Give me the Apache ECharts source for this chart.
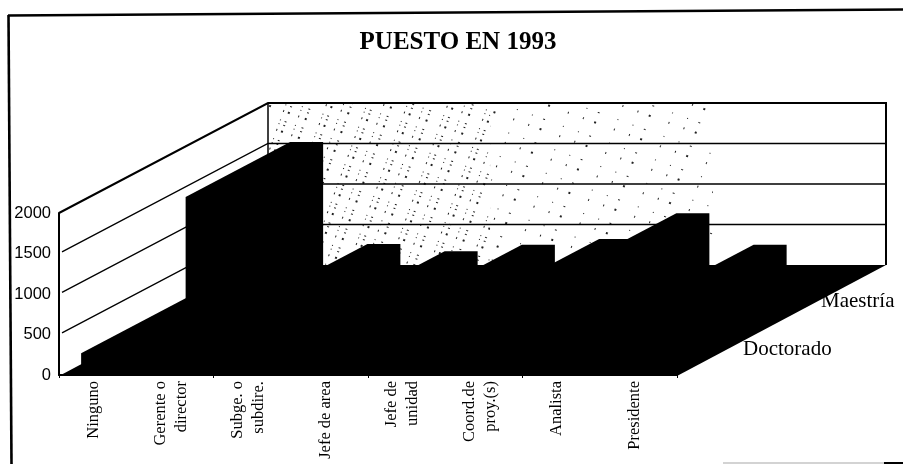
<!DOCTYPE html>
<html>
<head>
<meta charset="utf-8">
<style>html,body{margin:0;padding:0;background:#fff}#c{width:903px;height:464px}</style>
<script src="https://cdn.jsdelivr.net/npm/echarts@6/dist/echarts.min.js"></script>
</head>
<body>
<div id="c"></div>
<script>
const titleText = 'PUESTO EN 1993';
const categories = ['Ninguno', 'Gerente o\ndirector', 'Subge. o\nsubdire.', 'Jefe de area', 'Jefe de\nunidad', 'Coord.de\nproy.(s)', 'Analista', 'Presidente'];
const seriesNames = ['Doctorado', 'Maestría'];
const doctorado = [270, 180, 120, 140, 160, 100, 90, 40];
const maestria = [1520, 260, 170, 250, 320, 640, 250, 0];
const gridTicks = [500, 1000, 1500];
const yMax = 2000;

// oblique depth of one series row, in pixels
const DEPTH_X = 104.5, DEPTH_Y = 55, BAR_RATIO = 33 / 77.25;
const LINE = '#000';

function band(api) { return api.size([1, 0])[0]; }
function corners(api, v) {
  const b = band(api);
  const l = api.coord([0, v]);
  const r = api.coord([categories.length - 1, v]);
  return { x0: l[0] - b / 2, x1: r[0] + b / 2, y: l[1] };
}
// scanned stipple on the back wall: heavier towards the left, fading out to the right
function stipplePatch(xa, xb, ya, yb, decal) {
  return { type: 'polygon', silent: true, shape: { points: [[xa, ya], [xb, ya], [xb, yb], [xa, yb]] }, style: { fill: '#fff', decal: decal } };
}
function renderBackWall(params, api) {
  const c = corners(api, 0), t = corners(api, yMax);
  const bx0 = c.x0 + 2 * DEPTH_X, w = c.x1 - c.x0, ya = t.y - 2 * DEPTH_Y, yb = c.y - 2 * DEPTH_Y;
  const dense = { symbol: 'rect', symbolSize: 1, color: '#222', backgroundColor: '#fff', dashArrayX: [[1, 4, 2, 9, 1, 6, 2, 13]], dashArrayY: [1, 5, 2, 8, 1, 3], rotation: 0.35 };
  const sparse = { symbol: 'rect', symbolSize: 1, color: '#222', backgroundColor: '#fff', dashArrayX: [[1, 11, 2, 19, 1, 15]], dashArrayY: [1, 9, 2, 13], rotation: 0.35 };
  return {
    type: 'group', children: [
      stipplePatch(bx0, bx0 + w * 0.36, ya, yb, dense),
      stipplePatch(bx0 + w * 0.36, bx0 + w * 0.72, ya, yb, sparse)
    ]
  };
}
function renderGridLine(params, api) {
  const c = corners(api, api.value(1));
  return {
    type: 'polyline', silent: true,
    shape: { points: [[c.x0 + 3, c.y - 1.6], [c.x0 + 2 * DEPTH_X, c.y - 2 * DEPTH_Y], [c.x1 + 2 * DEPTH_X, c.y - 2 * DEPTH_Y]] },
    style: { stroke: LINE, lineWidth: 1.3, fill: null }
  };
}
function renderFrame(params, api) {
  const c = corners(api, 0), t = corners(api, yMax);
  const bx0 = c.x0 + 2 * DEPTH_X, bx1 = c.x1 + 2 * DEPTH_X, by = c.y - 2 * DEPTH_Y, ty = t.y - 2 * DEPTH_Y;
  return {
    type: 'group', children: [
      { type: 'polyline', silent: true, shape: { points: [[c.x0, t.y], [bx0, ty], [bx1, ty], [bx1, by]] }, style: { stroke: LINE, lineWidth: 2, fill: null } },
      { type: 'line', silent: true, shape: { x1: bx0, y1: ty, x2: bx0, y2: by }, style: { stroke: LINE, lineWidth: 1.5 } },
      { type: 'polygon', silent: true, shape: { points: [[c.x0, c.y + 1], [c.x1, c.y + 1], [bx1, by], [bx0, by]] }, style: { fill: '#000' } }
    ]
  };
}
function barRenderer(row) {
  return function (params, api) {
    const foot = api.coord([api.value(0), 0]);
    const top = api.coord([api.value(0), api.value(1)]);
    const w = band(api) * BAR_RATIO;
    const x = foot[0] - w / 2 + row * DEPTH_X, y = foot[1] - row * DEPTH_Y, h = foot[1] - top[1];
    return {
      type: 'polygon',
      shape: { points: [[x, y], [x, y - h], [x + DEPTH_X, y - DEPTH_Y - h], [x + DEPTH_X + w, y - DEPTH_Y - h], [x + DEPTH_X + w, y - DEPTH_Y], [x + w, y]] },
      style: { fill: '#000' }
    };
  };
}
const toPairs = arr => arr.map((v, i) => [i, v]);

const chart = echarts.init(document.getElementById('c'), null, { renderer: 'canvas' });
chart.setOption({
  animation: false,
  backgroundColor: '#fff',
  title: { text: titleText, left: 453, top: 25, textAlign: 'center',
    textStyle: { fontFamily: 'Liberation Serif', fontSize: 25, fontWeight: 'bold', color: '#000' } },
  grid: [
    { left: 59, top: 213, width: 618, height: 162 },
    { left: 55, top: 213, width: 618, height: 162 }
  ],
  xAxis: [
    { type: 'category', data: categories, gridIndex: 0,
      axisLine: { show: true, lineStyle: { color: '#000', width: 2 } },
      axisTick: { show: true, length: 3, lineStyle: { color: '#000', width: 1 } },
      axisLabel: { show: false } },
    { type: 'category', data: categories, gridIndex: 1,
      axisLine: { show: false }, axisTick: { show: false },
      axisLabel: { interval: 0, rotate: 90, margin: 6, color: '#000', fontFamily: 'Liberation Serif', fontSize: 16.5, lineHeight: 21 } }
  ],
  yAxis: [
    { type: 'value', gridIndex: 0, min: 0, max: yMax, interval: 500, splitLine: { show: false },
      axisLine: { show: true, lineStyle: { color: '#000', width: 2 } },
      axisTick: { show: false },
      axisLabel: { margin: 8, color: '#000', fontFamily: 'Liberation Sans', fontSize: 16.5, formatter: v => String(v) } },
    { type: 'value', gridIndex: 1, min: 0, max: yMax, interval: 500, show: false }
  ],
  graphic: { elements: [
    { type: 'polyline', silent: true, shape: { points: [[8.5, 15], [11.5, 464]] }, style: { stroke: '#000', lineWidth: 2.6, fill: null } },
    { type: 'polyline', silent: true, shape: { points: [[8, 15.5], [903, 9.5]] }, style: { stroke: '#000', lineWidth: 2.6, fill: null } },
    { type: 'line', silent: true, shape: { x1: 723, y1: 463, x2: 884, y2: 463 }, style: { stroke: '#c4c4c4', lineWidth: 1.5 } },
    { type: 'line', silent: true, shape: { x1: 884, y1: 463, x2: 903, y2: 463 }, style: { stroke: '#000', lineWidth: 2 } },
    { type: 'text', left: 743, top: 339, style: { text: seriesNames[0], fontFamily: 'Liberation Serif', fontSize: 21, fill: '#000' } },
    { type: 'text', left: 821, top: 291, style: { text: seriesNames[1], fontFamily: 'Liberation Serif', fontSize: 21, fill: '#000' } }
  ] },
  series: [
    { type: 'custom', name: 'backWall', renderItem: renderBackWall, data: [[0, 0]], silent: true, z: 1 },
    { type: 'custom', name: 'gridLines', renderItem: renderGridLine, data: gridTicks.map(v => [0, v]), silent: true, z: 2 },
    { type: 'custom', name: 'frame', renderItem: renderFrame, data: [[0, 0]], silent: true, z: 3 },
    { type: 'custom', name: seriesNames[1], renderItem: barRenderer(1), data: toPairs(maestria), encode: { x: 0, y: 1 }, z: 4 },
    { type: 'custom', name: seriesNames[0], renderItem: barRenderer(0), data: toPairs(doctorado), encode: { x: 0, y: 1 }, z: 5 }
  ]
});
</script>
</body>
</html>
